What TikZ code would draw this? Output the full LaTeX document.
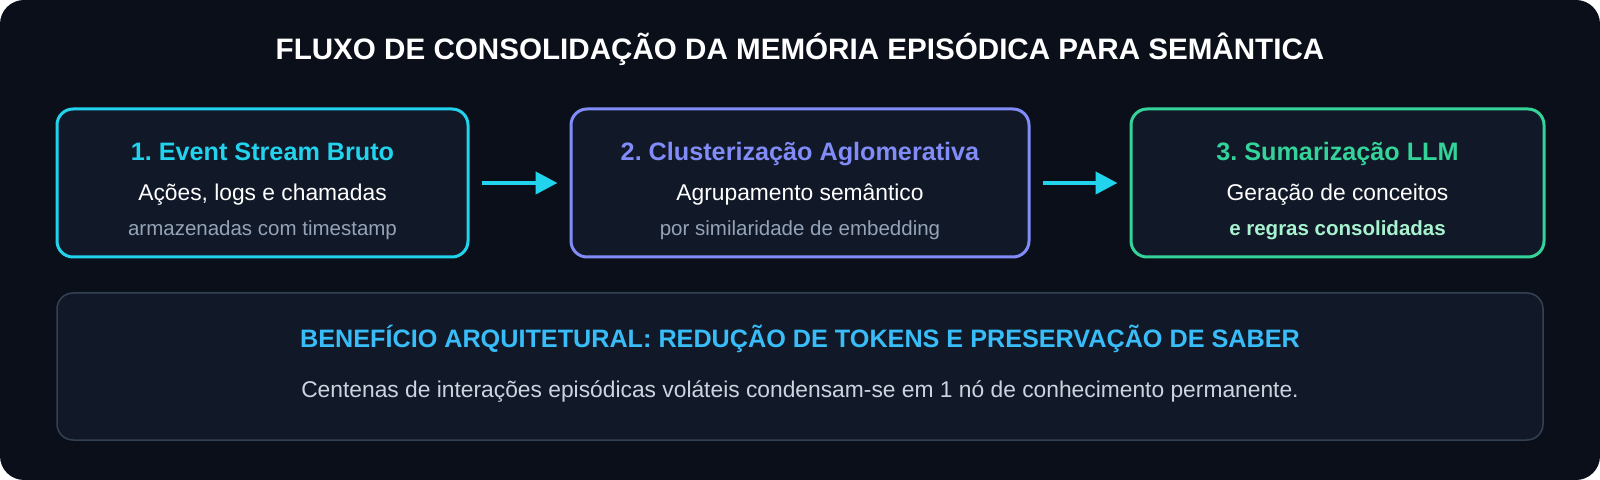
\documentclass[tikz,border=0pt]{standalone}
\usepackage{fontspec}
\setmainfont{Liberation Sans}
\usetikzlibrary{arrows.meta, positioning}
\definecolor{bgdark}{HTML}{0B0F19}
\definecolor{boxfill}{HTML}{111827}
\definecolor{cyanc}{HTML}{22D3EE}
\definecolor{indigoc}{HTML}{818CF8}
\definecolor{greenc}{HTML}{34D399}
\definecolor{lightgreen}{HTML}{A7F3D0}
\definecolor{grayc}{HTML}{94A3B8}
\definecolor{slatec}{HTML}{334155}
\definecolor{bluec}{HTML}{38BDF8}
\definecolor{softc}{HTML}{CBD5E1}
\tikzset{
    stage/.style={draw=#1, line width=1.5pt, fill=boxfill, rounded corners=8pt,
        minimum height=74pt, inner sep=0pt},
    heading/.style={font=\bfseries\fontsize{12.6}{15}\selectfont, anchor=base},
    mainline/.style={text=white, font=\fontsize{11.4}{13}\selectfont, anchor=base},
    subline/.style={text=grayc, font=\fontsize{10.25}{12}\selectfont, anchor=base},
    flow/.style={cyanc, line width=2.2pt, -{Triangle[length=11pt,width=11pt]}, shorten <=6pt, shorten >=6pt}
}
\frenchspacing
\begin{document}
\begin{tikzpicture}[x=0.5pt,y=-0.5pt]
            % background
            \fill[white] (0,0) rectangle (1600,480);
            \fill[bgdark, rounded corners=12pt] (0,0) rectangle (1600,480);
            \useasboundingbox (0,0) rectangle (1600,480);

            % title
            \node[text=white, font=\bfseries\fontsize{14.8}{17}\selectfont, anchor=base] (title) at (800,60)
                {FLUXO DE CONSOLIDAÇÃO DA MEMÓRIA EPISÓDICA PARA SEMÂNTICA};

            % the three stages
            \node[stage=cyanc, minimum width=205.5pt] (raw) at (262.5,183) {};
            \node[stage=indigoc, minimum width=229pt] (cluster) at (800,183) {};
            \node[stage=greenc, minimum width=206.5pt] (summary) at (1337.5,183) {};

            %stage 1
            \node[heading, text=cyanc] (rawhead) at (262.5,161) {1. Event Stream Bruto};
            \node[mainline] (rawmain) at (262.5,201) {Ações, logs e chamadas};
            \node[subline] (rawsub) at (262.5,236) {armazenadas com timestamp};

            %stage 2
            \node[heading, text=indigoc] (clusterhead) at (800,161) {2. Clusterização Aglomerativa};
            \node[mainline] (clustermain) at (800,201) {Agrupamento semântico};
            \node[subline] (clustersub) at (800,236) {por similaridade de embedding};

            %stage 3
            \node[heading, text=greenc] (summaryhead) at (1337.5,161) {3. Sumarização LLM};
            \node[mainline] (summarymain) at (1337.5,201) {Geração de conceitos};
            \node[subline, text=lightgreen, font=\bfseries\fontsize{10.25}{12}\selectfont] (summarysub) at (1337.5,236) {e regras consolidadas};

            % arrows between stages
            \draw[flow] (raw.east) -- (cluster.west);
            \draw[flow] (cluster.east) -- (summary.west);

            % benefit panel
            \node[draw=slatec, line width=0.75pt, fill=boxfill, rounded corners=8pt,
                minimum width=743pt, minimum height=73.5pt] (benefit) at (800,366.5) {};
            \node[heading, text=bluec] (benefithead) at (800,348)
                {BENEFÍCIO ARQUITETURAL: REDUÇÃO DE TOKENS E PRESERVAÇÃO DE SABER};
            \node[mainline, text=softc] (benefittext) at (800,398)
                {Centenas de interações episódicas voláteis condensam-se em 1 nó de conhecimento permanente.};
\end{tikzpicture}
\end{document}
